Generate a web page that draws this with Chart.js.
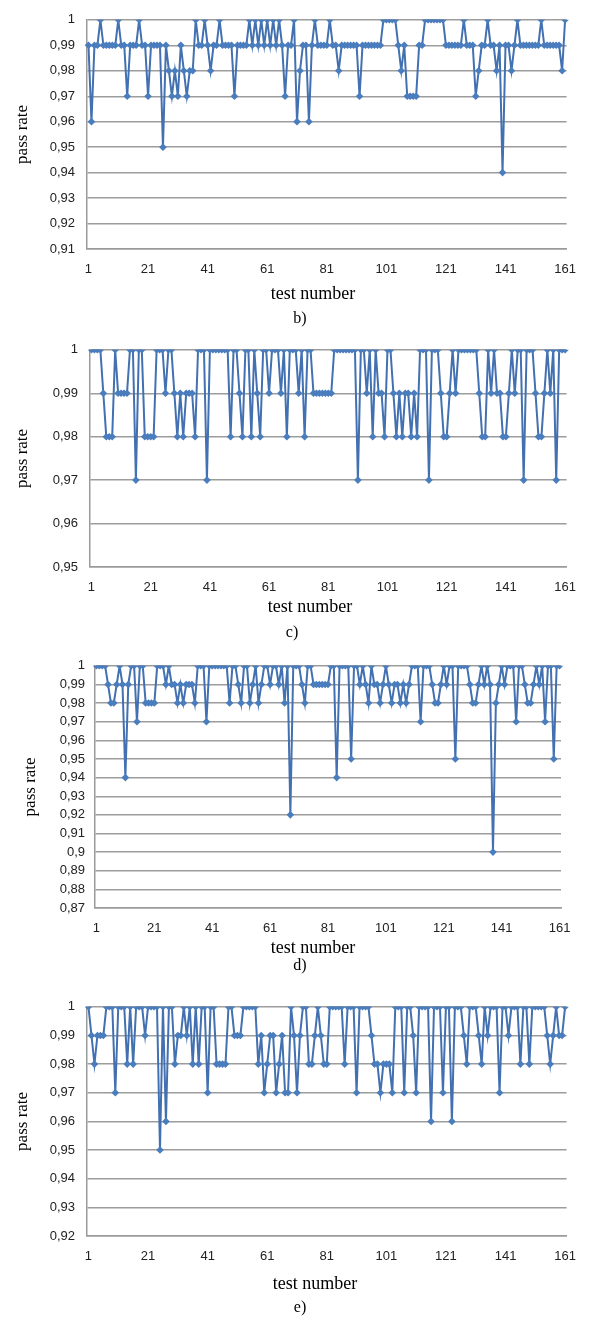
<!DOCTYPE html>
<html>
<head>
<meta charset="utf-8">
<script src="https://cdn.jsdelivr.net/npm/chart.js@4.4.1/dist/chart.umd.min.js"></script>
<style>
  body { margin: 0; background: #fff; width: 589px; height: 1321px; position: relative; overflow: hidden; }
  canvas { position: absolute; left: 0; }
  .txt { position: absolute; font-family: "Liberation Serif", "DejaVu Serif", serif; color: #000;
         transform: translate(-50%, -50%); white-space: nowrap; }
</style>
</head>
<body>
<canvas id="chartB" width="589" height="290" style="top:0px"></canvas>
<canvas id="chartC" width="589" height="278" style="top:330px"></canvas>
<canvas id="chartD" width="589" height="301" style="top:648px"></canvas>
<canvas id="chartE" width="589" height="290" style="top:987px"></canvas>

<div class="txt" style="left:313px;top:293px;font-size:18px">test number</div>
<div class="txt" style="left:300px;top:318px;font-size:16px">b)</div>
<div class="txt" style="left:310px;top:606px;font-size:18px">test number</div>
<div class="txt" style="left:292px;top:632px;font-size:16px">c)</div>
<div class="txt" style="left:313px;top:947px;font-size:18px">test number</div>
<div class="txt" style="left:300px;top:965px;font-size:16px">d)</div>
<div class="txt" style="left:315px;top:1283px;font-size:18px">test number</div>
<div class="txt" style="left:300px;top:1307px;font-size:16px">e)</div>

<script>
// categorías: número de test 1..161, etiquetas visibles cada 20
const testNumbers = Array.from({ length: 161 }, (_, i) => i + 1);
const tickLabels = ["1", "21", "41", "61", "81", "101", "121", "141", "161"];

const passB = [
  0.99, 0.96, 0.99, 0.99, 1, 0.99, 0.99, 0.99, 0.99, 0.99,
  1, 0.99, 0.99, 0.97, 0.99, 0.99, 0.99, 1, 0.99, 0.99,
  0.97, 0.99, 0.99, 0.99, 0.99, 0.95, 0.99, 0.98, 0.97, 0.98,
  0.97, 0.99, 0.98, 0.97, 0.98, 0.98, 1, 0.99, 0.99, 1,
  0.99, 0.98, 0.99, 0.99, 1, 0.99, 0.99, 0.99, 0.99, 0.97,
  0.99, 0.99, 0.99, 0.99, 1, 0.99, 1, 0.99, 1, 0.99,
  1, 0.99, 1, 0.99, 1, 0.99, 0.97, 0.99, 0.99, 1,
  0.96, 0.98, 0.99, 0.99, 0.96, 0.99, 1, 0.99, 0.99, 0.99,
  0.99, 1, 0.99, 0.99, 0.98, 0.99, 0.99, 0.99, 0.99, 0.99,
  0.99, 0.97, 0.99, 0.99, 0.99, 0.99, 0.99, 0.99, 0.99, 1,
  1, 1, 1, 1, 0.99, 0.98, 0.99, 0.97, 0.97, 0.97,
  0.97, 0.99, 0.99, 1, 1, 1, 1, 1, 1, 1,
  0.99, 0.99, 0.99, 0.99, 0.99, 0.99, 1, 0.99, 0.99, 0.99,
  0.97, 0.98, 0.99, 0.99, 1, 0.99, 0.99, 0.98, 0.99, 0.94,
  0.99, 0.99, 0.98, 0.99, 1, 0.99, 0.99, 0.99, 0.99, 0.99,
  0.99, 0.99, 1, 0.99, 0.99, 0.99, 0.99, 0.99, 0.99, 0.98,
  1
];

const passC = [
  1, 1, 1, 1, 0.99, 0.98, 0.98, 0.98, 1, 0.99,
  0.99, 0.99, 0.99, 1, 1, 0.97, 1, 1, 0.98, 0.98,
  0.98, 0.98, 1, 1, 1, 0.99, 1, 1, 0.99, 0.98,
  0.99, 0.98, 0.99, 0.99, 0.99, 0.98, 1, 1, 1, 0.97,
  1, 1, 1, 1, 1, 1, 1, 0.98, 1, 1,
  0.99, 0.98, 1, 1, 0.98, 1, 0.99, 0.98, 1, 1,
  0.99, 1, 1, 1, 0.99, 1, 0.98, 1, 1, 1,
  0.99, 1, 0.98, 1, 1, 0.99, 0.99, 0.99, 0.99, 0.99,
  0.99, 0.99, 1, 1, 1, 1, 1, 1, 1, 1,
  0.97, 1, 1, 0.99, 1, 0.98, 1, 0.99, 0.99, 0.98,
  1, 1, 0.99, 0.98, 0.99, 0.98, 0.99, 0.99, 0.98, 0.99,
  0.98, 1, 1, 1, 0.97, 1, 1, 1, 0.99, 0.98,
  0.98, 0.99, 1, 0.99, 1, 1, 1, 1, 1, 1,
  1, 0.99, 0.98, 0.98, 1, 0.99, 1, 0.99, 0.99, 0.98,
  0.98, 0.99, 1, 0.99, 1, 1, 0.97, 1, 1, 1,
  0.99, 0.98, 0.98, 0.99, 1, 0.99, 1, 0.97, 1, 1,
  1
];

const passD = [
  1, 1, 1, 1, 0.99, 0.98, 0.98, 0.99, 1, 0.99,
  0.94, 0.99, 1, 1, 0.97, 1, 1, 0.98, 0.98, 0.98,
  0.98, 1, 1, 1, 0.99, 1, 0.99, 0.99, 0.98, 0.99,
  0.98, 0.99, 0.99, 0.99, 0.98, 1, 1, 1, 0.97, 1,
  1, 1, 1, 1, 1, 1, 0.98, 1, 1, 0.99,
  0.98, 1, 1, 0.98, 0.99, 1, 0.98, 0.99, 1, 1,
  0.99, 1, 1, 0.99, 1, 0.98, 1, 0.92, 1, 1,
  1, 0.99, 0.98, 1, 1, 0.99, 0.99, 0.99, 0.99, 0.99,
  0.99, 1, 1, 0.94, 1, 1, 1, 1, 0.95, 1,
  1, 0.99, 1, 0.99, 0.98, 1, 0.99, 0.99, 0.98, 0.99,
  1, 0.99, 0.98, 0.99, 0.99, 0.98, 0.99, 0.98, 0.99, 1,
  1, 1, 0.97, 1, 1, 1, 0.99, 0.98, 0.98, 0.99,
  1, 0.99, 1, 1, 0.95, 1, 1, 1, 1, 0.99,
  0.98, 0.98, 0.99, 1, 0.99, 1, 0.99, 0.9, 0.98, 0.99,
  1, 0.99, 1, 1, 1, 0.97, 1, 1, 0.99, 0.98,
  0.98, 0.99, 1, 0.99, 1, 0.97, 1, 1, 0.95, 1,
  1
];

const passE = [
  1, 0.99, 0.98, 0.99, 0.99, 0.99, 1, 1, 1, 0.97,
  1, 1, 1, 0.98, 1, 0.98, 1, 1, 1, 0.99,
  1, 1, 1, 1, 0.95, 1, 0.96, 1, 1, 0.98,
  0.99, 0.99, 1, 0.99, 1, 0.98, 1, 0.98, 1, 1,
  0.97, 1, 1, 0.98, 0.98, 0.98, 0.98, 1, 1, 0.99,
  0.99, 0.99, 1, 1, 1, 1, 1, 0.98, 0.99, 0.97,
  0.98, 0.99, 0.99, 0.97, 0.98, 0.99, 0.97, 0.97, 1, 0.99,
  0.97, 0.99, 1, 1, 0.98, 0.98, 0.99, 1, 0.99, 0.98,
  0.98, 1, 1, 1, 1, 1, 0.98, 1, 1, 1,
  0.97, 1, 1, 1, 1, 0.99, 0.98, 0.98, 0.97, 0.98,
  0.98, 0.98, 0.97, 1, 1, 1, 0.97, 1, 1, 0.99,
  0.97, 1, 1, 1, 1, 0.96, 1, 1, 1, 0.97,
  1, 1, 0.96, 1, 1, 1, 0.99, 0.98, 1, 1,
  1, 0.99, 0.98, 1, 0.99, 1, 1, 1, 0.97, 1,
  1, 0.99, 1, 1, 1, 0.98, 1, 1, 0.98, 1,
  1, 1, 1, 1, 0.99, 0.98, 0.99, 1, 0.99, 0.99,
  1
];

// formato con coma decimal como en el original
function fmtRate(v) {
  return String(Math.round(v * 100) / 100).replace(".", ",");
}

function crearGrafico(id, datos, yMin, geo) {
  const ctx = document.getElementById(id).getContext("2d");
  new Chart(ctx, {
    type: "line",
    data: {
      labels: testNumbers,
      datasets: [{
        label: "pass rate",
        data: datos,
        borderColor: "#4270b0",
        borderWidth: 2,
        backgroundColor: "#4a7dbd",
        pointBackgroundColor: "#4a7dbd",
        pointBorderColor: "#4a7dbd",
        pointStyle: "rectRot",
        pointRadius: 3.8,
        pointBorderWidth: 0,
        tension: 0,
        fill: false
      }]
    },
    options: {
      responsive: false,
      animation: false,
      layout: { padding: { left: 4, right: geo.right, top: geo.top, bottom: 0 } },
      plugins: { legend: { display: false }, tooltip: { enabled: false } },
      scales: {
        x: {
          type: "category",
          offset: true,
          grid: { display: false, drawTicks: false },
          border: { display: true, color: "#9a9a9a", width: 1.5 },
          ticks: {
            autoSkip: false,
            maxRotation: 0,
            minRotation: 0,
            padding: 13,
            color: "#222",
            font: { family: "Liberation Sans", size: 13 },
            callback: function (val, i) {
              const lab = String(this.getLabelForValue(val));
              return tickLabels.includes(lab) ? lab : "";
            }
          },
          afterFit: s => { s.height = 41; }
        },
        y: {
          min: yMin,
          max: 1,
          grid: { color: "#9c9c9c", lineWidth: 1.4, drawTicks: false },
          border: { display: true, color: "#9a9a9a", width: 1.5 },
          ticks: {
            stepSize: 0.01,
            padding: geo.tickPad,
            color: "#222",
            font: { family: "Liberation Sans", size: 13 },
            callback: v => fmtRate(v)
          },
          title: {
            display: true,
            text: "pass rate",
            color: "#000",
            padding: { top: geo.titlePad, bottom: 4 },
            font: { family: "Liberation Serif", size: 17 }
          },
          afterFit: s => { s.width = geo.yWidth; }
        }
      }
    }
  });
}

crearGrafico("chartB", passB, 0.91, { top: 12, right: 19, yWidth: 83, tickPad: 12, titlePad: 8 });
crearGrafico("chartC", passC, 0.95, { top: 14, right: 17, yWidth: 86, tickPad: 12, titlePad: 8 });
crearGrafico("chartD", passD, 0.87, { top: 14, right: 28, yWidth: 91, tickPad: 10, titlePad: 16 });
crearGrafico("chartE", passE, 0.92, { top: 14, right: 22, yWidth: 83, tickPad: 12, titlePad: 8 });
</script>
</body>
</html>
